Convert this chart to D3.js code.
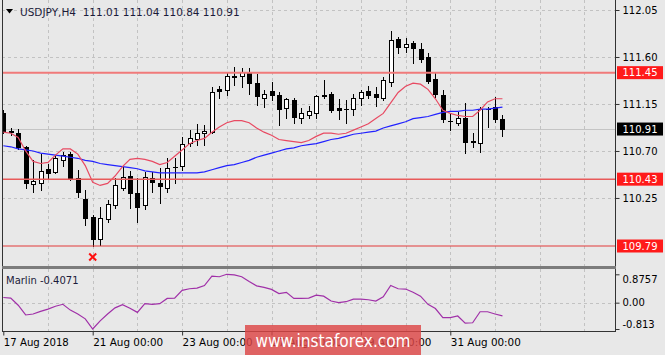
<!DOCTYPE html>
<html>
<head>
<meta charset="utf-8">
<script src="https://cdn.jsdelivr.net/npm/d3@7"></script>
<style>
  body { margin: 0; background: #e8e8e8; }
  svg { display: block; font-family: "DejaVu Sans", sans-serif; }
</style>
</head>
<body>
<svg></svg>
<script>
// USDJPY H4 bars (bar 0 = 17 Aug 00:00)
var open = [111.06,110.89,110.87,110.74,110.38,110.39,110.53,110.50,110.61,110.67,
  110.44,110.24,110.07,109.86,110.05,110.18,110.35,110.46,110.30,110.18,
  110.44,110.39,110.35,110.55,110.56,110.78,110.81,110.87,110.88,111.29,
  111.28,111.42,111.42,111.46,111.35,111.21,111.27,111.24,111.11,111.19,
  111.02,111.04,111.06,111.24,111.25,111.11,111.10,111.10,111.21,111.27,
  111.25,111.21,111.36,111.77,111.70,111.73,111.68,111.60,111.39,111.24,
  110.99,110.97,111.02,110.79,110.78,111.10,111.12,111.01];
var high = [111.09,110.92,110.91,110.75,110.61,110.67,110.58,110.66,110.69,110.69,
  110.52,110.33,110.09,110.16,110.23,110.44,110.55,110.51,110.44,110.50,
  110.50,110.54,110.63,110.63,110.83,110.90,110.96,110.95,111.31,111.32,
  111.46,111.50,111.49,111.49,111.44,111.28,111.36,111.26,111.21,111.21,
  111.11,111.13,111.24,111.38,111.26,111.20,111.19,111.25,111.28,111.32,
  111.31,111.41,111.85,111.79,111.78,111.75,111.73,111.64,111.46,111.28,
  111.06,111.07,111.16,110.87,111.12,111.12,111.22,111.04];
var low = [110.87,110.85,110.72,110.35,110.31,110.33,110.44,110.49,110.56,110.42,
  110.26,109.99,109.79,109.80,110.02,110.15,110.33,110.15,110.02,110.14,
  110.31,110.20,110.31,110.39,110.52,110.75,110.76,110.76,110.87,111.21,
  111.24,111.33,111.31,111.25,111.14,111.12,111.19,110.95,111.02,110.97,
  110.97,111.02,111.02,111.21,111.07,111.01,110.97,111.04,111.14,111.21,
  111.13,111.19,111.32,111.64,111.65,111.54,111.55,111.35,111.22,110.98,
  110.90,110.95,110.68,110.74,110.69,110.93,110.98,110.84];
var close = [110.89,110.88,110.74,110.39,110.41,110.51,110.49,110.63,110.66,110.44,
  110.31,110.06,109.86,110.06,110.19,110.37,110.45,110.30,110.16,110.45,
  110.40,110.36,110.54,110.55,110.77,110.82,110.87,110.89,111.26,111.27,
  111.42,111.41,111.46,111.35,111.23,111.25,111.24,111.10,111.20,111.03,
  111.06,111.08,111.23,111.23,111.09,111.09,111.10,111.21,111.26,111.24,
  111.22,111.38,111.76,111.70,111.72,111.69,111.58,111.37,111.25,111.01,
  110.99,111.02,110.79,110.80,111.10,111.10,111.01,110.91];

// moving averages as drawn (red = fast, blue = slow)
var maFast = [110.88,110.87,110.83,110.70,110.60,110.58,110.59,110.66,110.72,110.72,
  110.67,110.56,110.40,110.37,110.39,110.46,110.55,110.62,110.63,110.62,
  110.60,110.57,110.59,110.65,110.71,110.77,110.80,110.82,110.88,110.93,
  110.97,110.99,110.99,110.97,110.92,110.88,110.85,110.81,110.80,110.79,
  110.78,110.80,110.84,110.87,110.87,110.86,110.87,110.90,110.93,110.96,
  111.01,111.06,111.16,111.26,111.32,111.35,111.34,111.29,111.20,111.09,
  111.06,111.04,111.03,111.03,111.09,111.17,111.20,111.20];
var maSlow = [110.75,110.74,110.72,110.71,110.70,110.68,110.67,110.66,110.65,110.64,
  110.63,110.61,110.60,110.58,110.57,110.56,110.55,110.54,110.53,110.51,
  110.50,110.49,110.49,110.49,110.49,110.49,110.49,110.50,110.52,110.54,
  110.56,110.57,110.59,110.61,110.64,110.66,110.68,110.70,110.72,110.73,
  110.75,110.76,110.77,110.79,110.81,110.82,110.84,110.86,110.87,110.88,
  110.89,110.92,110.94,110.96,110.98,111.01,111.02,111.03,111.05,111.07,
  111.08,111.08,111.09,111.09,111.10,111.10,111.11,111.12];

// Marlin oscillator
var marlin = [0.16,0.14,-0.08,-0.38,-0.35,-0.27,-0.20,-0.11,-0.05,-0.23,
  -0.35,-0.50,-0.813,-0.56,-0.35,-0.16,-0.06,-0.17,-0.30,-0.03,
  -0.05,-0.03,0.13,0.14,0.38,0.43,0.45,0.53,0.82,0.80,
  0.8757,0.86,0.80,0.65,0.52,0.47,0.41,0.28,0.32,0.13,
  0.13,0.14,0.23,0.20,0.05,0.00,0.03,0.11,0.11,0.09,
  0.05,0.18,0.53,0.43,0.42,0.32,0.20,-0.05,-0.18,-0.46,
  -0.46,-0.41,-0.63,-0.62,-0.28,-0.28,-0.35,-0.4071];

var priceTicks = [112.05, 111.60, 111.15, 110.70, 110.25];
var levels = [111.45, 110.43, 109.79];
var lastPrice = 110.91;
var marlinTicks = [0.8757, 0, -0.813];
var marlinTickLabels = ['0.8757', '0.00', '-0.813'];
var dateBars = [0, 12, 24, 36, 48, 60];
var dateLabels = ['17 Aug 2018', '21 Aug 00:00', '23 Aug 00:00', '27 Aug 00:00', '29 Aug 00:00', '31 Aug 00:00'];
var lowMarkBar = 12;
var title = 'USDJPY,H4  111.01 111.04 110.84 110.91';

var width = 665, height = 355;
var left = 2, right = 615;
var mainTop = 0, mainBottom = 266, subTop = 269, subBottom = 331;

var svg = d3.select('svg').attr('width', width).attr('height', height);
svg.append('rect').attr('width', width).attr('height', height).attr('fill', '#e8e8e8');

var x = d3.scaleLinear().domain([0, 67]).range([3.3, 502.45]);
var y = d3.scaleLinear().domain([109.79, 112.05]).range([246, 10]);
var ym = d3.scaleLinear().domain([-0.813, 0.8757]).range([329, 274.3]);

var px = v => Math.round(v) + 0.5;

svg.append('clipPath').attr('id', 'mainClip')
  .append('rect').attr('x', left).attr('y', mainTop).attr('width', right - left).attr('height', mainBottom - mainTop);
svg.append('clipPath').attr('id', 'subClip')
  .append('rect').attr('x', left).attr('y', subTop).attr('width', right - left).attr('height', subBottom - subTop);

var main = svg.append('g').attr('clip-path', 'url(#mainClip)');
var sub = svg.append('g').attr('clip-path', 'url(#subClip)');

// grid
var gridDays = d3.range(6, 79, 6);
[[main, mainTop, mainBottom], [sub, subTop, subBottom]].forEach(function(p) {
  p[0].selectAll('line.vgrid').data(gridDays).enter().append('line')
    .attr('class', 'vgrid')
    .attr('x1', d => px(x(d))).attr('x2', d => px(x(d)))
    .attr('y1', p[1]).attr('y2', p[2])
    .attr('stroke', '#c2c2c2').attr('stroke-dasharray', '3,3');
});
main.selectAll('line.hgrid').data(priceTicks).enter().append('line')
  .attr('x1', left).attr('x2', right)
  .attr('y1', d => px(y(d))).attr('y2', d => px(y(d)))
  .attr('stroke', '#c2c2c2').attr('stroke-dasharray', '3,3');
sub.append('line')
  .attr('x1', left).attr('x2', right)
  .attr('y1', px(ym(0))).attr('y2', px(ym(0)))
  .attr('stroke', '#c2c2c2').attr('stroke-dasharray', '3,3');

// bid line
main.append('line')
  .attr('x1', left).attr('x2', right)
  .attr('y1', px(y(lastPrice))).attr('y2', px(y(lastPrice)))
  .attr('stroke', '#c4c4c4');

// candles
var bars = close.map((c, i) => ({ i: i, o: open[i], h: high[i], l: low[i], c: c }));
var cg = main.selectAll('g.bar').data(bars).enter().append('g');
cg.append('line')
  .attr('x1', d => px(x(d.i))).attr('x2', d => px(x(d.i)))
  .attr('y1', d => Math.round(y(d.h))).attr('y2', d => Math.round(y(d.l)) + 1)
  .attr('stroke', '#000');
cg.filter(d => d.o !== d.c).append('rect')
  .attr('x', d => Math.round(x(d.i)) - 2 + 0.5)
  .attr('y', d => Math.round(y(Math.max(d.o, d.c))) + 0.5)
  .attr('width', 4)
  .attr('height', d => Math.max(1, Math.round(y(Math.min(d.o, d.c))) - Math.round(y(Math.max(d.o, d.c)))))
  .attr('fill', d => d.c > d.o ? '#fff' : '#000')
  .attr('stroke', '#000');
cg.filter(d => d.o === d.c).append('line')
  .attr('x1', d => Math.round(x(d.i)) - 2).attr('x2', d => Math.round(x(d.i)) + 3)
  .attr('y1', d => px(y(d.c))).attr('y2', d => px(y(d.c)))
  .attr('stroke', '#000');

// moving averages
var line = d3.line().x((d, i) => x(i)).y(d => y(d));
main.append('path').datum(maSlow).attr('d', line)
  .attr('fill', 'none').attr('stroke', '#2222ff').attr('stroke-width', 1.2);
main.append('path').datum(maFast).attr('d', line)
  .attr('fill', 'none').attr('stroke', '#e84a62').attr('stroke-width', 1.2);

// horizontal levels
var levelStyle = [{ c: '#f07a7a', w: 2 }, { c: '#e85a5a', w: 1.5 }, { c: '#e23a3a', w: 1 }];
main.selectAll('line.level').data(levels).enter().append('line')
  .attr('x1', left).attr('x2', right)
  .attr('y1', d => y(d)).attr('y2', d => y(d))
  .attr('stroke', (d, i) => levelStyle[i].c)
  .attr('stroke-width', (d, i) => levelStyle[i].w);

// low marker
var mx = x(lowMarkBar), my = 257;
main.append('path')
  .attr('d', `M${mx - 3.5},${my - 3.5}L${mx + 3.5},${my + 3.5}M${mx - 3.5},${my + 3.5}L${mx + 3.5},${my - 3.5}`)
  .attr('stroke', '#ff1010').attr('stroke-width', 2);

// Marlin line
var mline = d3.line().x((d, i) => x(i)).y(d => ym(d));
sub.append('path').datum(marlin).attr('d', mline)
  .attr('fill', 'none').attr('stroke', '#a030a8').attr('stroke-width', 1.2);

// frames
svg.append('line').attr('x1', left + 0.5).attr('x2', left + 0.5).attr('y1', mainTop).attr('y2', subBottom + 1).attr('stroke', '#333');
svg.append('line').attr('x1', right + 0.5).attr('x2', right + 0.5).attr('y1', mainTop).attr('y2', subBottom + 1).attr('stroke', '#333');
svg.append('rect').attr('x', left).attr('y', mainBottom).attr('width', right - left + 1).attr('height', 3).attr('fill', '#7c7c7c');
svg.append('line').attr('x1', left).attr('x2', right + 1).attr('y1', subBottom + 0.5).attr('y2', subBottom + 0.5).attr('stroke', '#333');

// price axis
var yAxis = d3.axisRight(y).tickValues(priceTicks).tickSize(4).tickPadding(3).tickFormat(d3.format('.2f'));
svg.append('g').attr('transform', `translate(${right + 0.5},0)`).call(yAxis)
  .call(g => g.select('.domain').remove())
  .call(g => g.selectAll('line').attr('stroke', '#333'))
  .call(g => g.selectAll('text').attr('font-size', 10).attr('font-family', 'DejaVu Sans').attr('fill', '#000'));

// price tags
var tags = levels.map(v => ({ v: v, fill: '#ff1a1a' })).concat([{ v: lastPrice, fill: '#000' }]);
var tg = svg.selectAll('g.tag').data(tags).enter().append('g')
  .attr('transform', d => `translate(617,${y(d.v)})`);
tg.append('rect').attr('x', 0).attr('y', -6.5).attr('width', 46).attr('height', 13).attr('fill', d => d.fill);
tg.append('text').attr('x', 5.5).attr('dy', '0.35em')
  .attr('font-size', 10).attr('fill', '#fff')
  .text(d => d3.format('.2f')(d.v));

// Marlin axis
var mAxis = d3.axisRight(ym).tickValues(marlinTicks).tickSize(4).tickPadding(3)
  .tickFormat((d, i) => marlinTickLabels[i]);
svg.append('g').attr('transform', `translate(${right + 0.5},0)`).call(mAxis)
  .call(g => g.select('.domain').remove())
  .call(g => g.selectAll('line').attr('stroke', '#333'))
  .call(g => g.selectAll('text').attr('font-size', 10).attr('font-family', 'DejaVu Sans').attr('fill', '#000'))
  .call(g => g.selectAll('.tick').filter(d => d === marlinTicks[0]).select('text').attr('dy', '0.8em'))
  .call(g => g.selectAll('.tick').filter(d => d === marlinTicks[2]).select('text').attr('dy', '-0.15em'));

// time axis
var xAxis = d3.axisBottom(x).tickValues(dateBars).tickSize(4).tickPadding(3)
  .tickFormat((d, i) => dateLabels[i]);
svg.append('g').attr('transform', `translate(0,${subBottom + 0.5})`).call(xAxis)
  .call(g => g.select('.domain').remove())
  .call(g => g.selectAll('line').attr('stroke', '#333'))
  .call(g => g.selectAll('text')
    .attr('font-size', 10).attr('font-family', 'DejaVu Sans').attr('fill', '#000')
    .attr('text-anchor', 'start').attr('x', 0).attr('dy', '0.75em')
    .attr('textLength', (d, i) => i === 0 ? 65 : 70).attr('lengthAdjust', 'spacingAndGlyphs'));

// title and indicator label
svg.append('path').attr('d', 'M6,9L13,9L9.5,13.5Z').attr('fill', '#000');
svg.append('text').attr('x', 20).attr('y', 16)
  .attr('font-size', 10.5).attr('fill', '#1b1b3a').style('white-space', 'pre')
  .text(title);
svg.append('text').attr('x', 6).attr('y', 284)
  .attr('font-size', 10).attr('fill', '#1b1b3a')
  .text('Marlin ' + marlin[marlin.length - 1]);

// watermark
svg.append('rect').attr('x', 245).attr('y', 325).attr('width', 176).attr('height', 30)
  .attr('fill', '#dd4646').attr('opacity', 0.82);
svg.append('text').attr('x', 333).attr('y', 346.5).attr('text-anchor', 'middle')
  .attr('font-size', 17).attr('fill', '#fff')
  .attr('textLength', 155).attr('lengthAdjust', 'spacingAndGlyphs')
  .text('www.instaforex.com');
</script>
</body>
</html>
